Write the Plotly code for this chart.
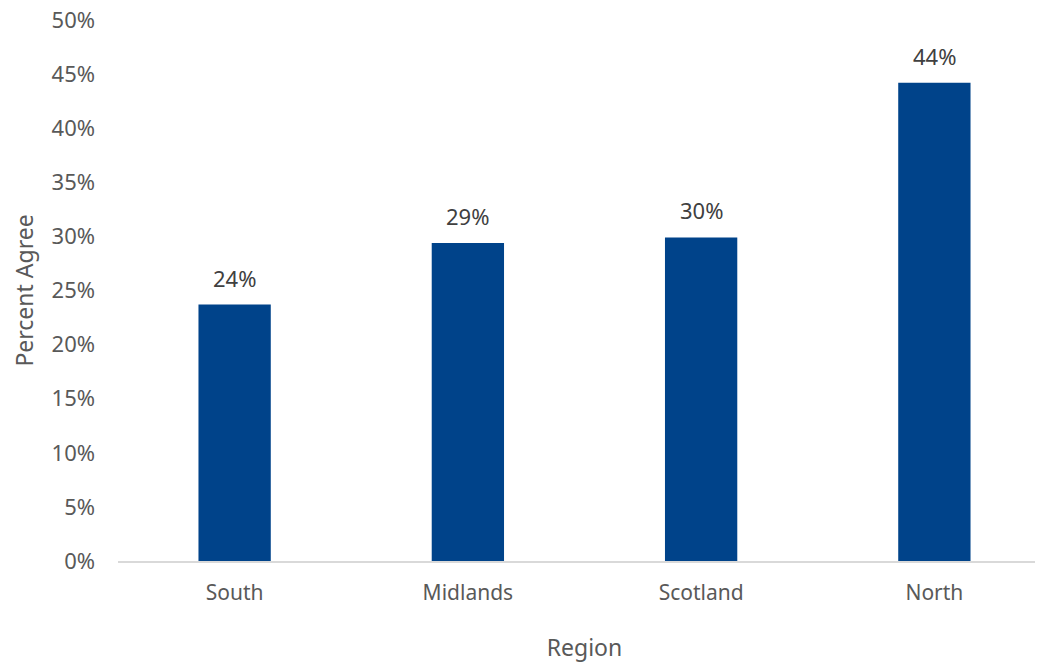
import plotly.graph_objects as go

regions = ["South", "Midlands", "Scotland", "North"]
values = [0.237, 0.294, 0.299, 0.442]
labels = ["24%", "29%", "30%", "44%"]
y_ticks = [0, 0.05, 0.10, 0.15, 0.20, 0.25, 0.30, 0.35, 0.40, 0.45, 0.50]

FONT = "Noto Sans"
fig = go.Figure()
fig.add_trace(go.Bar(
    x=regions, y=values, marker=dict(color="#00438A", line=dict(width=0)),
    hoverinfo="skip",
))
for r, v, t in zip(regions, values, labels):
    fig.add_annotation(x=r, y=v, text=t, showarrow=False, yanchor="bottom", yshift=10,
                       font=dict(family=FONT, size=22, color="#404040"))

fig.update_layout(
    width=1043, height=664,
    margin=dict(l=110, r=0, t=12, b=111),
    plot_bgcolor="white", paper_bgcolor="white",
    bargap=0.69,
    showlegend=False,
    font=dict(family=FONT, color="#595959"),
)
fig.update_xaxes(
    range=[-0.5, 3.5], showline=True, linecolor="#D9D9D9", linewidth=2,
    ticks="", showgrid=False, tickfont=dict(size=21, color="#595959"),
    ticklabelstandoff=12, automargin=False,
    title=dict(text="Region", font=dict(size=23, color="#595959"), standoff=35),
)
fig.update_yaxes(
    range=[0, 0.5], tickvals=y_ticks, tickformat=".0%", showgrid=False,
    zeroline=False, showline=False, ticks="",
    tickfont=dict(size=22, color="#595959"), ticklabelstandoff=22, automargin=False,
    ticklabeloverflow="allow",
    title=dict(text="Percent Agree", font=dict(size=23, color="#595959"), standoff=12),
)
fig.write_html("out.html")
